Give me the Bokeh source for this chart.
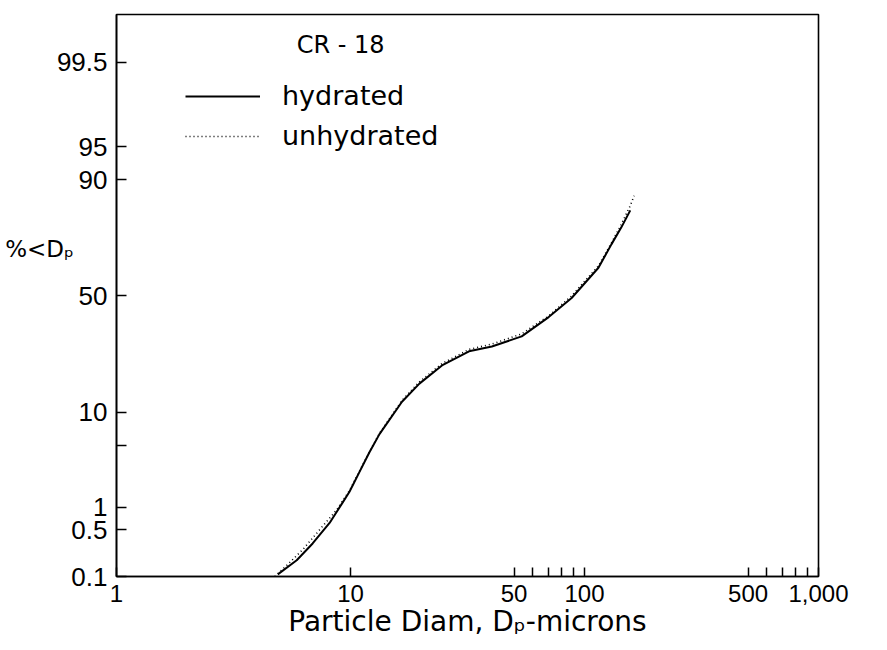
from statistics import NormalDist

from bokeh.plotting import figure
from bokeh.models import FixedTicker, Legend, LegendItem, Label, Range1d
from bokeh.embed import file_html
from bokeh.resources import INLINE

# ---- data ----
diam_hydrated = [4.89, 5.89, 6.89, 8.14, 9.25, 9.9, 10.9, 12.05, 13.3, 16.6,
                 19.7, 24.6, 32.1, 40.2, 53.9, 70.3, 88.1, 114.7, 130.3,
                 143.7, 156.9]
pct_hydrated = [0.108, 0.18, 0.32, 0.62, 1.14, 1.55, 2.6, 4.25, 6.4, 12.2,
                16.7, 22.2, 27.1, 28.9, 32.8, 40.8, 49.1, 62.2, 71.5,
                77.5, 82.7]

diam_unhydrated = [4.75, 5.34, 6.25, 7.38, 8.72, 9.9, 10.9, 12.05, 13.3, 16.6,
                   19.7, 24.6, 32.1, 40.2, 53.9, 70.3, 88.1, 114.7, 130.3,
                   143.7, 156.9, 163.0]
pct_unhydrated = [0.1, 0.15, 0.26, 0.50, 0.92, 1.6, 2.65, 4.3, 6.5, 12.5,
                  17.2, 22.8, 27.8, 29.8, 33.8, 41.3, 50.0, 63.0, 72.0,
                  78.5, 84.0, 86.5]

y_tick_values = [0.1, 0.5, 1, 10, 50, 90, 95, 99.5]
y_tick_labels = ["0.1", "0.5", "1", "10", "50", "90", "95", "99.5"]
y_minor_values = [5]

x_tick_values = [1, 10, 50, 100, 500, 1000]
x_tick_labels = ["1", "10", "50", "100", "500", "1,000"]
x_minor_values = [60, 70, 80, 90, 600, 700, 800, 900]

series_names = ["hydrated", "unhydrated"]
chart_title = "CR - 18"
y_title = "%<D\u209a"
x_title = "Particle Diam, D\u209a-microns"

# ---- probability (probit) transform for the y axis ----
nd = NormalDist()


def probit(pct):
    return nd.inv_cdf(pct / 100.0)


yh = [probit(v) for v in pct_hydrated]
yu = [probit(v) for v in pct_unhydrated]
y_ticks = [probit(v) for v in y_tick_values]
y_minor = [probit(v) for v in y_minor_values]

NUM_FONT = "Liberation Sans"
TXT_FONT = "DejaVu Sans"

p = figure(width=878, height=646, x_axis_type="log",
           x_range=Range1d(1, 1000),
           y_range=Range1d(probit(0.1), 3.10),
           output_backend="svg", toolbar_location=None,
           min_border_left=116, min_border_right=60,
           min_border_top=14, min_border_bottom=70)

p.background_fill_color = "white"
p.border_fill_color = "white"
p.grid.visible = False
p.outline_line_color = "black"
p.outline_line_width = 1.6

# x axis
xa = p.xaxis[0]
xa.ticker = FixedTicker(ticks=x_tick_values, minor_ticks=x_minor_values)
xa.major_label_overrides = {v: s for v, s in zip(x_tick_values, x_tick_labels)}
xa.major_tick_in = 9
xa.major_tick_out = 0
xa.minor_tick_in = 9
xa.minor_tick_out = 0
xa.major_tick_line_width = 1.5
xa.minor_tick_line_width = 1.5
xa.axis_line_width = 1.6
xa.major_label_text_font = NUM_FONT
xa.major_label_text_font_size = "24px"
xa.major_label_text_color = "black"
xa.major_label_standoff = 8
xa.axis_label = x_title
xa.axis_label_text_font = TXT_FONT
xa.axis_label_text_font_size = "28px"
xa.axis_label_text_font_style = "normal"
xa.axis_label_text_color = "black"
xa.axis_label_standoff = 0

# y axis
ya = p.yaxis[0]
ya.ticker = FixedTicker(ticks=y_ticks, minor_ticks=y_minor)
ya.major_label_overrides = {t: s for t, s in zip(y_ticks, y_tick_labels)}
ya.major_tick_in = 10
ya.major_tick_out = 0
ya.minor_tick_in = 10
ya.minor_tick_out = 0
ya.major_tick_line_width = 1.5
ya.minor_tick_line_width = 1.5
ya.axis_line_width = 1.6
ya.major_label_text_font = NUM_FONT
ya.major_label_text_font_size = "26px"
ya.major_label_text_color = "black"
ya.major_label_standoff = 9
# extra blank lines lift the horizontal title above the axis centre
ya.axis_label = y_title + "\n \n \n "
ya.axis_label_orientation = "horizontal"
ya.axis_label_text_font = TXT_FONT
ya.axis_label_text_font_size = "23px"
ya.axis_label_text_font_style = "normal"
ya.axis_label_text_color = "black"
ya.axis_label_standoff = -20

# curves
r_h = p.line(diam_hydrated, yh, line_color="black", line_width=2)
r_u = p.line(diam_unhydrated, yu, line_color="black", line_width=1.6,
             line_dash="1 3")

legend = Legend(items=[LegendItem(label=series_names[0], renderers=[r_h]),
                       LegendItem(label=series_names[1], renderers=[r_u])],
                location=(69, 425), orientation="vertical",
                glyph_width=75, glyph_height=30, label_height=30,
                label_standoff=22, spacing=9, padding=0, margin=0,
                border_line_alpha=0, background_fill_alpha=0,
                label_text_font=TXT_FONT, label_text_font_size="27px",
                label_text_color="black")
p.add_layout(legend, "center")

p.add_layout(Label(x=5.89, y=2.76, text=chart_title, text_font=TXT_FONT,
                   text_font_size="24px", text_align="left",
                   text_baseline="middle", text_color="black"))

open("out.html", "w").write(file_html(p, INLINE))
